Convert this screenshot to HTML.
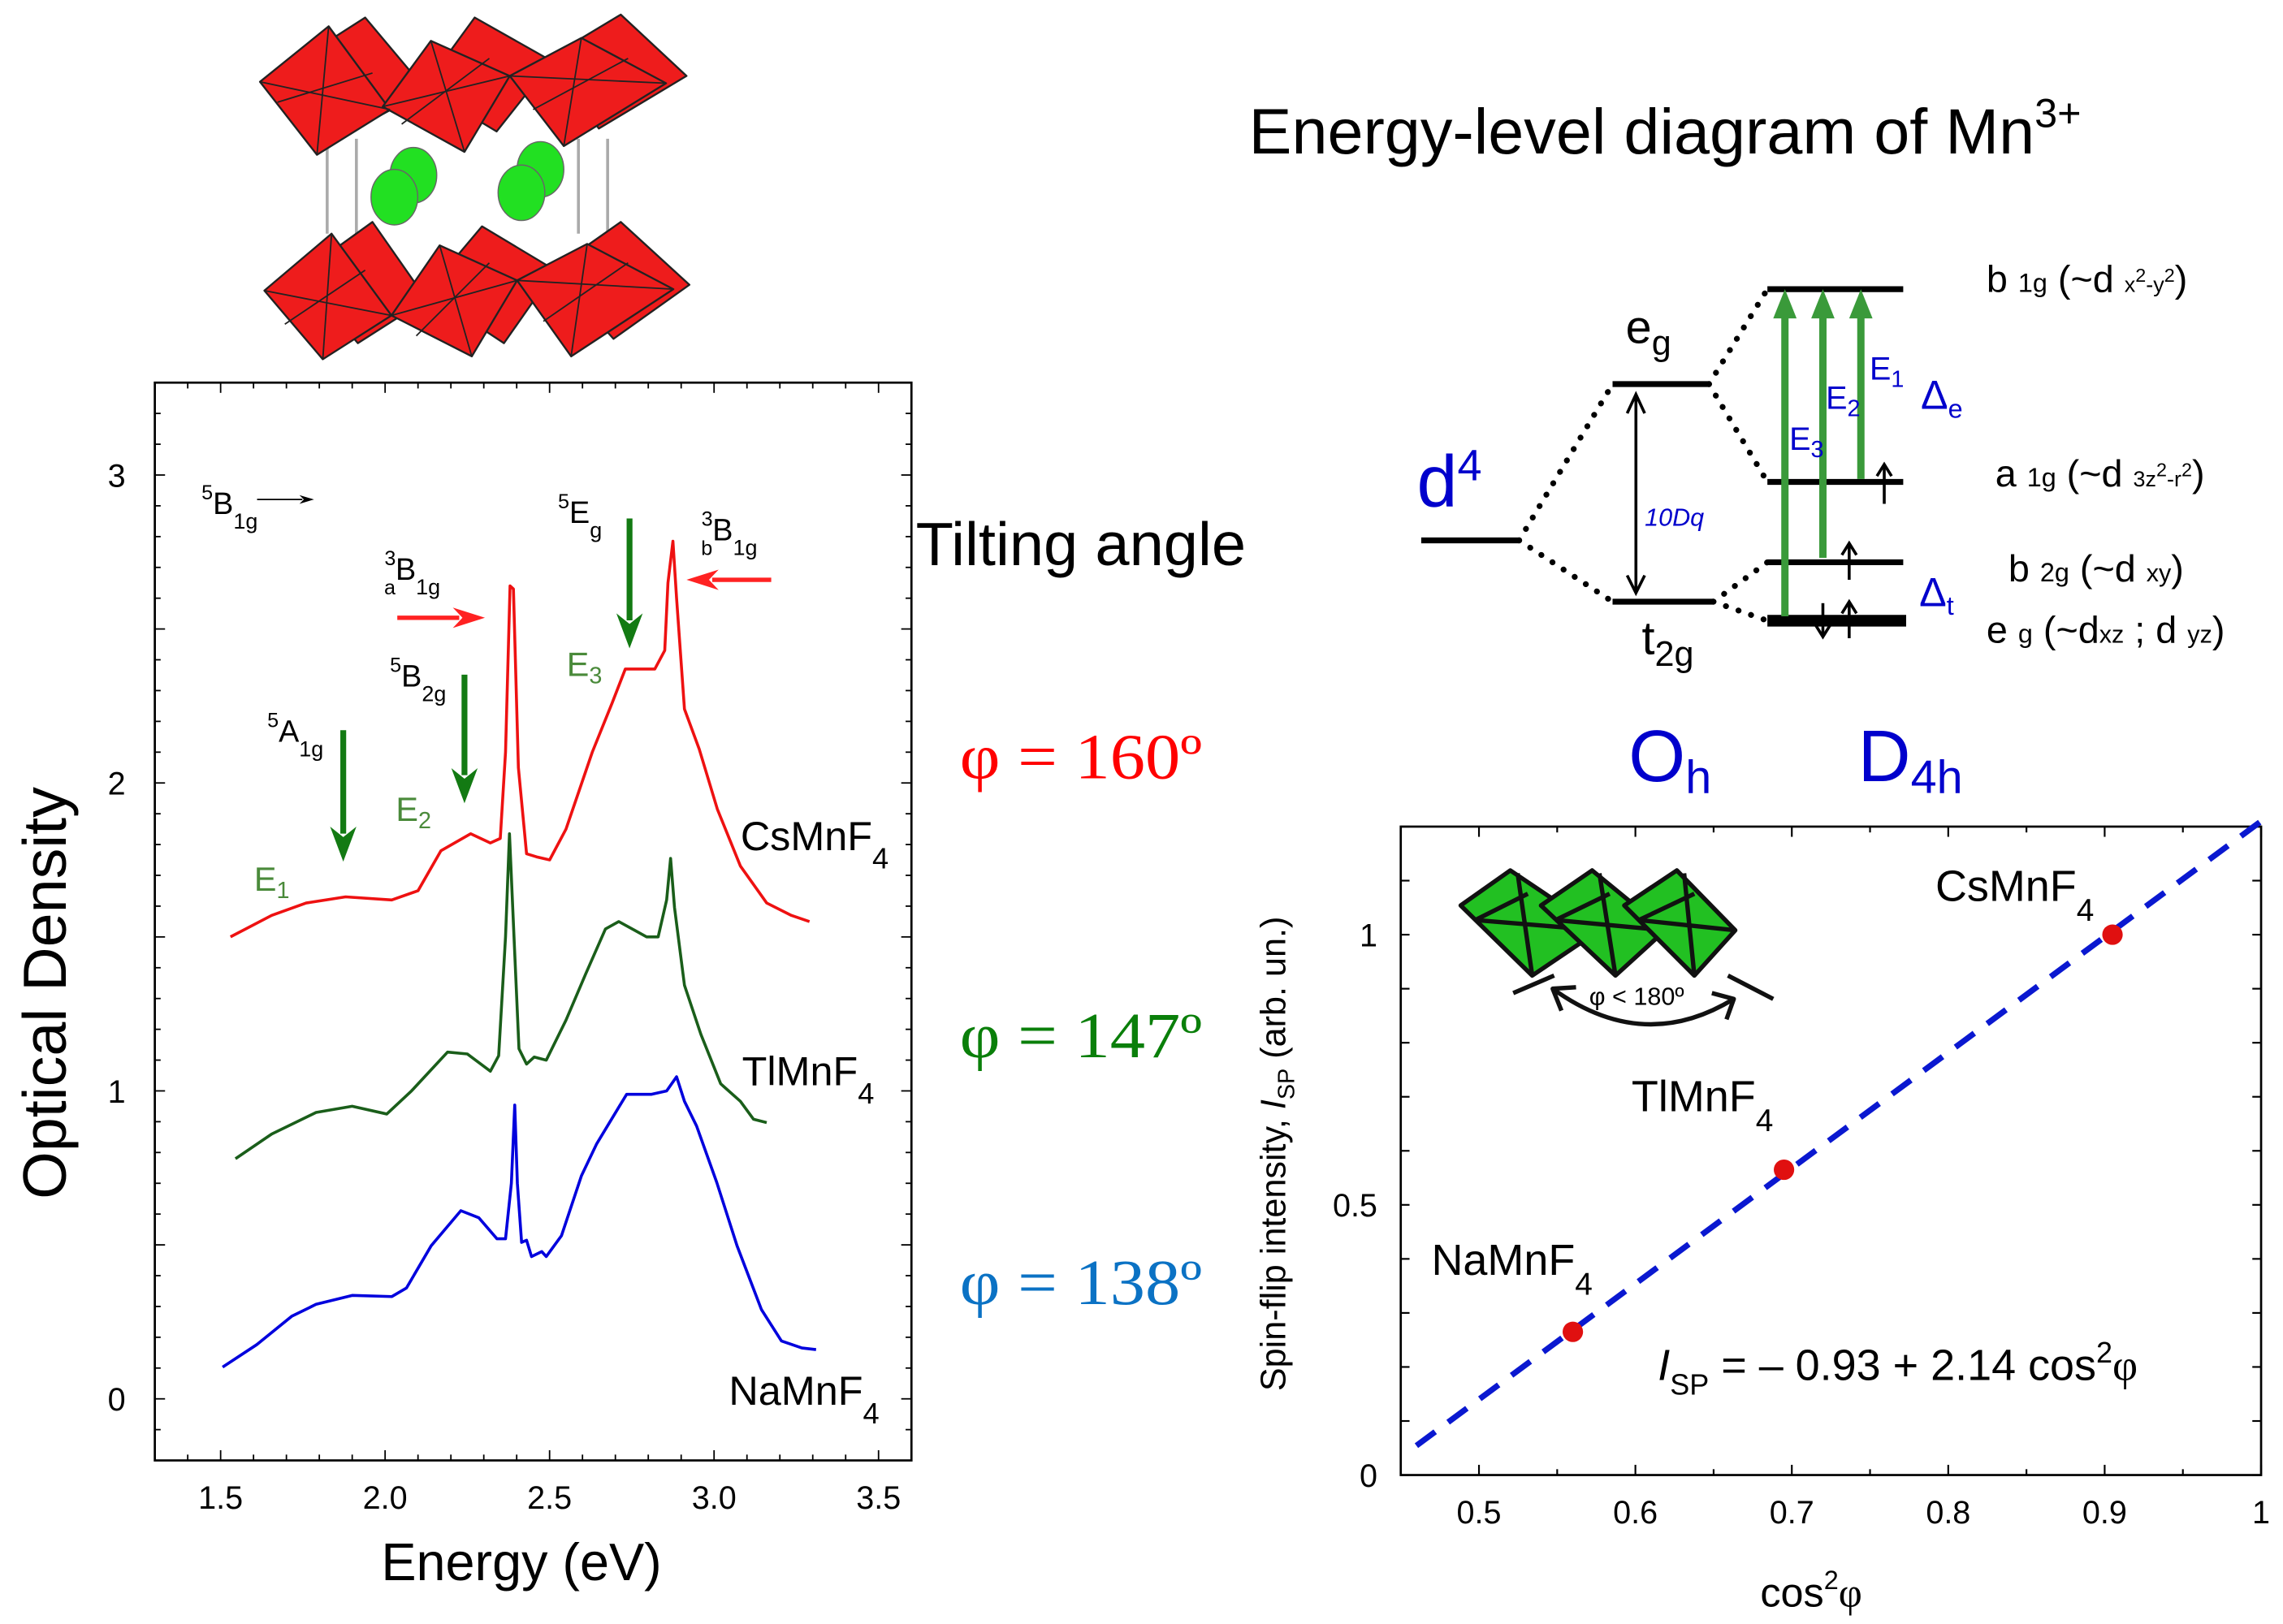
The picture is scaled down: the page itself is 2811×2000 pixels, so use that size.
<!DOCTYPE html>
<html><head><meta charset="utf-8">
<style>
html,body{margin:0;padding:0;background:#fff;}
svg{display:block;}
text{font-family:"Liberation Sans",sans-serif;}
.serif{font-family:"Liberation Serif",serif;}
</style></head>
<body>
<svg id="fig" xmlns="http://www.w3.org/2000/svg" width="2811" height="2000" viewBox="0 0 1563 1112" preserveAspectRatio="none">
<rect x="0" y="0" width="1563" height="1112" fill="#fff"/>

<!-- crystal structure -->
<g id="crystal" stroke="#222" stroke-width="1.3" stroke-linejoin="round">
  <g stroke="#aaa" stroke-width="2">
    <line x1="224" y1="95" x2="224" y2="160"/>
    <line x1="244" y1="95" x2="244" y2="160"/>
    <line x1="396" y1="95" x2="396" y2="160"/>
    <line x1="416" y1="95" x2="416" y2="160"/>
  </g>
  <g fill="#ee1c1c">
    <!-- back top -->
    <polygon points="200,44 250,12 292,62 240,90"/>
    <polygon points="290,60 325,12 378,42 340,90"/>
    <polygon points="375,40 425,10 470,52 410,88"/>
    <!-- front top -->
    <polygon points="178,56 225,18 267,75 217,106"/>
    <polygon points="262,73 295,28 349,52 318,104"/>
    <polygon points="349,52 398,26 456,57 386,100"/>
    <!-- back bottom -->
    <polygon points="205,188 255,152 292,205 245,235"/>
    <polygon points="292,200 330,155 380,185 345,235"/>
    <polygon points="378,185 425,152 472,195 420,232"/>
    <!-- front bottom -->
    <polygon points="181,199 227,160 268,216 221,246"/>
    <polygon points="268,216 301,168 354,192 323,244"/>
    <polygon points="354,192 402,167 461,198 391,244"/>
  </g>
  <g fill="none" stroke-width="1">
    <line x1="225" y1="18" x2="217" y2="106"/><line x1="178" y1="56" x2="267" y2="75"/><line x1="190" y1="70" x2="255" y2="50"/>
    <line x1="295" y1="28" x2="318" y2="104"/><line x1="262" y1="73" x2="349" y2="52"/><line x1="275" y1="85" x2="335" y2="40"/>
    <line x1="398" y1="26" x2="386" y2="100"/><line x1="349" y1="52" x2="456" y2="57"/><line x1="365" y1="75" x2="430" y2="40"/>
    <line x1="227" y1="160" x2="221" y2="246"/><line x1="181" y1="199" x2="268" y2="216"/><line x1="195" y1="222" x2="250" y2="185"/>
    <line x1="301" y1="168" x2="323" y2="244"/><line x1="268" y1="216" x2="354" y2="192"/><line x1="285" y1="230" x2="335" y2="180"/>
    <line x1="402" y1="167" x2="391" y2="244"/><line x1="354" y1="192" x2="461" y2="198"/><line x1="372" y1="220" x2="430" y2="180"/>
  </g>
  <g fill="#22e022" stroke="#666" stroke-width="0.8">
    <ellipse cx="283" cy="120" rx="16" ry="19"/>
    <ellipse cx="270" cy="135" rx="16" ry="19"/>
    <ellipse cx="370" cy="116" rx="16" ry="19"/>
    <ellipse cx="357" cy="132" rx="16" ry="19"/>
  </g>
</g>

<g id="leftChart"></g>
<g id="rightChart"></g>

<!-- tilting angle labels -->
<text x="627" y="387" font-size="42" textLength="226" lengthAdjust="spacingAndGlyphs">Tilting angle</text>
<text class="serif" x="657" y="533" font-size="44" fill="#ff0000" textLength="166" lengthAdjust="spacingAndGlyphs">φ = 160º</text>
<text class="serif" x="657" y="724" font-size="44" fill="#0a7f0a" textLength="166" lengthAdjust="spacingAndGlyphs">φ = 147º</text>
<text class="serif" x="657" y="893" font-size="44" fill="#0b72c4" textLength="166" lengthAdjust="spacingAndGlyphs">φ = 138º</text>

<!-- energy level diagram -->
<g id="energyDiagram">
  <text x="855" y="105" font-size="44">Energy-level diagram of Mn<tspan dy="-18" font-size="28">3+</tspan></text>
  <g stroke="#000" stroke-width="4">
    <line x1="973" y1="370" x2="1040" y2="370"/>
    <line x1="1104" y1="263" x2="1170" y2="263"/>
    <line x1="1104" y1="412" x2="1173" y2="412"/>
    <line x1="1210" y1="198" x2="1303" y2="198"/>
    <line x1="1210" y1="330" x2="1303" y2="330"/>
    <line x1="1210" y1="385" x2="1303" y2="385"/>
    <line x1="1210" y1="425" x2="1305" y2="425" stroke-width="8"/>
  </g>
  <g stroke="#000" stroke-width="4" stroke-dasharray="0.1 9" stroke-linecap="round" fill="none">
    <line x1="1040" y1="370" x2="1104" y2="263"/>
    <line x1="1040" y1="370" x2="1104" y2="412"/>
    <line x1="1170" y1="263" x2="1210" y2="198"/>
    <line x1="1170" y1="263" x2="1210" y2="330"/>
    <line x1="1173" y1="412" x2="1210" y2="385"/>
    <line x1="1173" y1="412" x2="1210" y2="425"/>
  </g>
  <g stroke="#000" stroke-width="2" fill="none">
    <line x1="1120" y1="270" x2="1120" y2="406"/>
    <polyline points="1114,283 1120,270 1126,283"/>
    <polyline points="1114,394 1120,406 1126,394"/>
  </g>
  <g stroke="#000" stroke-width="2" fill="none">
    <line x1="1290" y1="345" x2="1290" y2="318"/><polyline points="1285,326 1290,318 1295,326"/>
    <line x1="1266" y1="397" x2="1266" y2="372"/><polyline points="1261,380 1266,372 1271,380"/>
    <line x1="1266" y1="437" x2="1266" y2="412"/><polyline points="1261,420 1266,412 1271,420"/>
    <line x1="1248" y1="413" x2="1248" y2="436"/><polyline points="1243,428 1248,436 1253,428"/>
  </g>
  <g stroke="#3a9a3a" stroke-width="5" fill="#3a9a3a">
    <line x1="1222" y1="422" x2="1222" y2="214"/><polygon points="1214,218 1222,198 1230,218" stroke="none"/>
    <line x1="1248" y1="382" x2="1248" y2="214"/><polygon points="1240,218 1248,198 1256,218" stroke="none"/>
    <line x1="1274" y1="328" x2="1274" y2="214"/><polygon points="1266,218 1274,198 1282,218" stroke="none"/>
  </g>
  <g fill="#0000cc">
    <text x="970" y="347" font-size="50" font-family="Liberation Serif">d<tspan dy="-18" font-size="30">4</tspan></text>
    <text x="1126" y="360" font-size="17" font-style="italic" font-family="Liberation Serif">10Dq</text>
    <text x="1280" y="260" font-size="22" font-family="Liberation Serif">E<tspan dy="5" font-size="16">1</tspan></text>
    <text x="1250" y="280" font-size="22" font-family="Liberation Serif">E<tspan dy="5" font-size="16">2</tspan></text>
    <text x="1225" y="308" font-size="22" font-family="Liberation Serif">E<tspan dy="5" font-size="16">3</tspan></text>
    <text x="1315" y="280" font-size="28" font-family="Liberation Serif">Δ<tspan dy="6" font-size="18">e</tspan></text>
    <text x="1314" y="415" font-size="28" font-family="Liberation Serif">Δ<tspan dy="6" font-size="18">t</tspan></text>
    <text x="1115" y="535" font-size="50" font-family="Liberation Serif">O<tspan dy="8" font-size="32">h</tspan></text>
    <text x="1272" y="535" font-size="50" font-family="Liberation Serif">D<tspan dy="8" font-size="32">4h</tspan></text>
  </g>
  <g fill="#000">
    <text x="1113" y="235" font-size="32" font-family="Liberation Serif">e<tspan dy="8" font-size="24">g</tspan></text>
    <text x="1124" y="448" font-size="32" font-family="Liberation Serif">t<tspan dy="8" font-size="24">2g</tspan></text>
    <text x="1360" y="200" font-size="26" font-family="Liberation Serif">b <tspan font-size="18">1g</tspan> (~d <tspan font-size="15">x</tspan><tspan font-size="13" dy="-7">2</tspan><tspan font-size="15" dy="7">-y</tspan><tspan font-size="13" dy="-7">2</tspan><tspan dy="7">)</tspan></text>
    <text x="1366" y="333" font-size="26" font-family="Liberation Serif">a <tspan font-size="18">1g</tspan> (~d <tspan font-size="15">3z</tspan><tspan font-size="13" dy="-7">2</tspan><tspan font-size="15" dy="7">-r</tspan><tspan font-size="13" dy="-7">2</tspan><tspan dy="7">)</tspan></text>
    <text x="1375" y="398" font-size="26" font-family="Liberation Serif">b <tspan font-size="18">2g</tspan> (~d <tspan font-size="17">xy</tspan>)</text>
    <text x="1360" y="440" font-size="26" font-family="Liberation Serif">e <tspan font-size="18">g</tspan> (~d<tspan font-size="17">xz</tspan> ; d <tspan font-size="17">yz</tspan>)</text>
  </g>
</g>

<script>
// ---------- Left chart data (optical density vs energy) ----------
const energyTicks = [1.5, 2.0, 2.5, 3.0, 3.5];
const energyTickLabels = ["1.5", "2.0", "2.5", "3.0", "3.5"];
const odTicks = [0, 1, 2, 3];
const odTickLabels = ["0", "1", "2", "3"];
const csEnergy = [1.53,1.655,1.76,1.88,2.02,2.10,2.17,2.26,2.32,2.35,2.366,2.38,2.39,2.405,2.43,2.46,2.50,2.55,2.63,2.69,2.73,2.82,2.85,2.86,2.875,2.886,2.91,2.955,3.01,3.08,3.16,3.235,3.29];
const csOD = [1.50,1.57,1.61,1.63,1.62,1.65,1.78,1.835,1.805,1.82,2.10,2.64,2.63,2.05,1.77,1.76,1.75,1.85,2.10,2.26,2.37,2.37,2.43,2.65,2.785,2.60,2.24,2.11,1.915,1.73,1.61,1.57,1.55];
const tlEnergy = [1.545,1.655,1.79,1.90,2.005,2.08,2.19,2.25,2.32,2.345,2.366,2.378,2.392,2.407,2.43,2.453,2.49,2.55,2.61,2.67,2.71,2.795,2.83,2.856,2.868,2.88,2.91,2.96,3.02,3.08,3.12,3.16];
const tlOD = [0.78,0.86,0.93,0.95,0.925,1.00,1.126,1.12,1.064,1.114,1.50,1.835,1.50,1.137,1.087,1.11,1.10,1.23,1.38,1.526,1.55,1.50,1.50,1.62,1.755,1.595,1.343,1.183,1.023,0.966,0.908,0.897];
const naEnergy = [1.506,1.61,1.716,1.79,1.90,2.02,2.065,2.14,2.23,2.285,2.34,2.366,2.384,2.394,2.402,2.415,2.43,2.445,2.476,2.49,2.536,2.597,2.643,2.734,2.81,2.856,2.886,2.91,2.947,3.008,3.07,3.144,3.205,3.267,3.31];
const naOD = [0.103,0.176,0.268,0.307,0.336,0.332,0.36,0.497,0.611,0.588,0.52,0.52,0.70,0.954,0.70,0.508,0.515,0.462,0.478,0.462,0.53,0.725,0.828,0.989,0.989,1.0,1.046,0.966,0.886,0.703,0.497,0.29,0.188,0.165,0.16];

// ---------- Right chart data (spin-flip intensity vs cos^2 phi) ----------
const cosTicks = [0.5, 0.6, 0.7, 0.8, 0.9, 1.0];
const cosTickLabels = ["0.5", "0.6", "0.7", "0.8", "0.9", "1"];
const ispTicks = [0, 0.5, 1];
const ispTickLabels = ["0", "0.5", "1"];
const sampleNames = ["NaMnF4", "TlMnF4", "CsMnF4"];
const cos2Values = [0.56, 0.695, 0.905];
const ispValues = [0.265, 0.565, 1.0];
const fitCoeffs = [-0.93, 2.14];
const fitRange = [0.46, 1.0];

const NS = "http://www.w3.org/2000/svg";
function mk(parent, tag, attrs, txt) {
  const e = document.createElementNS(NS, tag);
  for (const k in attrs) e.setAttribute(k, attrs[k]);
  if (txt !== undefined) e.textContent = txt;
  parent.appendChild(e);
  return e;
}

// ---- left chart ----
const L = { x0: 106, x1: 624, y0: 262, y1: 1000, xmin: 1.30, xmax: 3.60, ymin: -0.20, ymax: 3.30 };
function lx(v) { return L.x0 + (v - L.xmin) / (L.xmax - L.xmin) * (L.x1 - L.x0); }
function ly(v) { return L.y1 - (v - L.ymin) / (L.ymax - L.ymin) * (L.y1 - L.y0); }
const lg = document.getElementById("leftChart");

const lframe = mk(lg, "rect", { x: L.x0, y: L.y0, width: L.x1 - L.x0, height: L.y1 - L.y0, fill: "none", stroke: "#000", "stroke-width": 1.5 });



for (let i = 0; i <= 23; i++) {
  const v = L.xmin + i * 0.1;
  if (v > L.xmax + 1e-6) break;
  const major = Math.abs(v * 2 - Math.round(v * 2)) < 1e-6;
  const len = major ? 7 : 4;
  const t1 = mk(lg, "line", { x1: lx(v), y1: L.y1, x2: lx(v), y2: L.y1 - len, stroke: "#000", "stroke-width": 1 });
  
  
  const t2 = mk(lg, "line", { x1: lx(v), y1: L.y0, x2: lx(v), y2: L.y0 + len, stroke: "#000", "stroke-width": 1 });
  
  
}
for (let i = 0; i <= 35; i++) {
  const v = L.ymin + i * 0.1;
  if (v > L.ymax + 1e-6) break;
  const major = Math.abs(v * 2 - Math.round(v * 2)) < 1e-6;
  const len = major ? 7 : 4;
  const t1 = mk(lg, "line", { x1: L.x0, y1: ly(v), x2: L.x0 + len, y2: ly(v), stroke: "#000", "stroke-width": 1 });
  
  
  const t2 = mk(lg, "line", { x1: L.x1, y1: ly(v), x2: L.x1 - len, y2: ly(v), stroke: "#000", "stroke-width": 1 });
  
  
}
energyTicks.forEach((v, i) => {
  const t = mk(lg, "text", { x: lx(v), y: L.y1 + 33, "font-size": 22, "text-anchor": "middle" }, energyTickLabels[i]);
  
  
});
odTicks.forEach((v, i) => {
  const t = mk(lg, "text", { x: L.x0 - 20, y: ly(v) + 8, "font-size": 22, "text-anchor": "end" }, odTickLabels[i]);
  
  
});
const lxt = mk(lg, "text", { x: 357, y: 1082, "font-size": 36, "text-anchor": "middle" }, "Energy (eV)");


const lyt = mk(lg, "text", { x: 0, y: 0, "font-size": 42, "text-anchor": "middle", transform: "translate(45,680) rotate(-90)" }, "Optical Density");



function drawSeries(xs, ys, color, name) {
  const d = xs.map((v, i) => (i ? "L" : "M") + lx(v).toFixed(1) + "," + ly(ys[i]).toFixed(1)).join(" ");
  const p = mk(lg, "path", { d: d, fill: "none", stroke: color, "stroke-width": 2, "stroke-linejoin": "round" });
  
  
}
drawSeries(csEnergy, csOD, "#ee1111", "csmnf4-curve");
drawSeries(tlEnergy, tlOD, "#1a5e1a", "tlmnf4-curve");
drawSeries(naEnergy, naOD, "#0000dd", "namnf4-curve");

function subLabel(parent, x, y, main, sub, size, name) {
  const t = mk(parent, "text", { x: x, y: y, "font-size": size });
  
  
  mk(t, "tspan", {}, main);
  mk(t, "tspan", { dy: size * 0.45, "font-size": size * 0.72 }, sub);
  return t;
}
subLabel(lg, 507, 582, "CsMnF", "4", 28, "csmnf4-label");
subLabel(lg, 508, 743, "TlMnF", "4", 28, "tlmnf4-label");
subLabel(lg, 499, 962, "NaMnF", "4", 28, "namnf4-label");

function arrow(parent, x1, y1, x2, y2, color, w, hw, hl, name) {
  const g = mk(parent, "g", {});
  
  
  const dx = x2 - x1, dy = y2 - y1, L2 = Math.hypot(dx, dy), ux = dx / L2, uy = dy / L2;
  mk(g, "line", { x1: x1, y1: y1, x2: x2 - ux * hl * 0.8, y2: y2 - uy * hl * 0.8, stroke: color, "stroke-width": w });
  const bx = x2 - ux * hl, by = y2 - uy * hl;
  mk(g, "polygon", { points: `${x2},${y2} ${bx - uy * hw},${by + ux * hw} ${x2 - ux * hl * 0.7},${y2 - uy * hl * 0.7} ${bx + uy * hw},${by - ux * hw}`, fill: color });
}
arrow(lg, 235, 500, 235, 590, "#137a13", 4, 9, 24, "arrow-5a1g");
arrow(lg, 318, 462, 318, 550, "#137a13", 4, 9, 24, "arrow-5b2g");
arrow(lg, 431, 355, 431, 444, "#137a13", 4, 9, 24, "arrow-5eg");
arrow(lg, 272, 423, 332, 423, "#ff2222", 3, 7, 22, "arrow-3ab1g");
arrow(lg, 528, 397, 470, 397, "#ff2222", 3, 7, 22, "arrow-3bb1g");
arrow(lg, 176, 342, 215, 342, "#000", 1, 3, 10, "arrow-5b1g");

function stateLabel(x, y, pre, main, preSub, sub, name) {
  const t = mk(lg, "text", { x: x, y: y, "font-size": 21 });
  
  
  mk(t, "tspan", { dy: -10, "font-size": 14 }, pre);
  if (preSub) { mk(t, "tspan", { dy: 20, "font-size": 14, dx: -8 }, preSub); mk(t, "tspan", { dy: -10 }, main); }
  else mk(t, "tspan", { dy: 10 }, main);
  mk(t, "tspan", { dy: 10, "font-size": 15 }, sub);
}
stateLabel(138, 352, "5", "B", null, "1g", "label-5b1g");
stateLabel(263, 397, "3", "B", "a", "1g", "label-3ab1g");
stateLabel(267, 470, "5", "B", null, "2g", "label-5b2g");
stateLabel(382, 358, "5", "E", null, "g", "label-5eg");
stateLabel(480, 370, "3", "B", "b", "1g", "label-3bb1g");
stateLabel(183, 508, "5", "A", null, "1g", "label-5a1g");

function eLabel(x, y, n, name) {
  const t = mk(lg, "text", { x: x, y: y, "font-size": 23, fill: "#4a8a3a", "font-family": "Liberation Serif" });
  
  
  mk(t, "tspan", {}, "E");
  mk(t, "tspan", { dy: 5, "font-size": 16 }, n);
}
eLabel(174, 610, "1", "label-e1");
eLabel(271, 562, "2", "label-e2");
eLabel(388, 463, "3", "label-e3");

// ---- right chart ----
const R = { x0: 959, x1: 1548, y0: 566, y1: 1010, xmin: 0.45, xmax: 1.0, ymin: 0, ymax: 1.2 };
function rx(v) { return R.x0 + (v - R.xmin) / (R.xmax - R.xmin) * (R.x1 - R.x0); }
function ry(v) { return R.y1 - (v - R.ymin) / (R.ymax - R.ymin) * (R.y1 - R.y0); }
const rg = document.getElementById("rightChart");
const rframe = mk(rg, "rect", { x: R.x0, y: R.y0, width: R.x1 - R.x0, height: R.y1 - R.y0, fill: "none", stroke: "#000", "stroke-width": 1.5 });


for (let i = 0; i <= 12; i++) {
  const vv = Math.round((0.45 + i * 0.05) * 100) / 100;
  if (vv < 0.46 || vv > R.xmax + 1e-6) continue;
  const len = Math.abs(vv * 10 - Math.round(vv * 10)) < 1e-6 ? 7 : 4;
  const t1 = mk(rg, "line", { x1: rx(vv), y1: R.y1, x2: rx(vv), y2: R.y1 - len, stroke: "#000", "stroke-width": 1.2 });
  
  
  const t2 = mk(rg, "line", { x1: rx(vv), y1: R.y0, x2: rx(vv), y2: R.y0 + len, stroke: "#000", "stroke-width": 1.2 });
  
  
}
for (let i = 0; i <= 12; i++) {
  const v = i * 0.1;
  const t1 = mk(rg, "line", { x1: R.x0, y1: ry(v), x2: R.x0 + 6, y2: ry(v), stroke: "#000", "stroke-width": 1.2 });
  
  
  const t2 = mk(rg, "line", { x1: R.x1, y1: ry(v), x2: R.x1 - 6, y2: ry(v), stroke: "#000", "stroke-width": 1.2 });
  
  
}
cosTicks.forEach((v, i) => {
  const t = mk(rg, "text", { x: rx(v), y: R.y1 + 33, "font-size": 22, "text-anchor": "middle" }, cosTickLabels[i]);
  
  
});
ispTicks.forEach((v, i) => {
  const t = mk(rg, "text", { x: R.x0 - 16, y: ry(v) + 8, "font-size": 22, "text-anchor": "end" }, ispTickLabels[i]);
  
  
});
const rxt = mk(rg, "text", { x: 1240, y: 1100, "font-size": 28, "text-anchor": "middle" });


mk(rxt, "tspan", {}, "cos");
mk(rxt, "tspan", { dy: -12, "font-size": 18 }, "2");
mk(rxt, "tspan", { dy: 12, "font-family": "Liberation Serif" }, "φ");
const ryt = mk(rg, "text", { x: 0, y: 0, "font-size": 24, "text-anchor": "middle", transform: "translate(880,790) rotate(-90)" });


mk(ryt, "tspan", {}, "Spin-flip intensity, ");
mk(ryt, "tspan", { "font-style": "italic" }, "I");
mk(ryt, "tspan", { dy: 6, "font-size": 16 }, "SP");
mk(ryt, "tspan", { dy: -6 }, " (arb. un.)");

const fit = mk(rg, "line", { x1: rx(fitRange[0]), y1: ry(fitCoeffs[0] + fitCoeffs[1] * fitRange[0]), x2: rx(fitRange[1]), y2: ry(fitCoeffs[0] + fitCoeffs[1] * fitRange[1]), stroke: "#0a18d0", "stroke-width": 4, "stroke-dasharray": "16 11" });


cos2Values.forEach((v, i) => {
  const c = mk(rg, "circle", { cx: rx(v), cy: ry(ispValues[i]), r: 7, fill: "#e01010" });
  
  
});
subLabel(rg, 1325, 617, "CsMnF", "4", 30, "csmnf4-point-label");
subLabel(rg, 1117, 761, "TlMnF", "4", 30, "tlmnf4-point-label");
subLabel(rg, 980, 873, "NaMnF", "4", 30, "namnf4-point-label");
const eq = mk(rg, "text", { x: 1135, y: 945, "font-size": 30 });


mk(eq, "tspan", { "font-style": "italic" }, "I");
mk(eq, "tspan", { dy: 10, "font-size": 20 }, "SP");
mk(eq, "tspan", { dy: -10 }, " = – 0.93 + 2.14 cos");
mk(eq, "tspan", { dy: -12, "font-size": 20 }, "2");
mk(eq, "tspan", { dy: 12, "font-family": "Liberation Serif" }, "φ");

// inset green octahedra
const ins = mk(rg, "g", { stroke: "#111", "stroke-width": 3, "stroke-linejoin": "round" });


[[1000, 1034, 1049, 1095], [1055, 1090, 1106, 1140], [1112, 1148, 1160, 1188]].forEach(o => {
  mk(ins, "polygon", { points: `${o[0]},620 ${o[1]},596 ${o[3]},637 ${o[2]},668`, fill: "#22c022" });
  mk(ins, "line", { x1: o[0] + 10, y1: 630, x2: o[3], y2: 637 });
  mk(ins, "line", { x1: o[1] + 5, y1: 598, x2: o[2], y2: 668 });
  mk(ins, "line", { x1: o[0] + 10, y1: 630, x2: o[1] + 12, y2: 612 });
});
mk(ins, "line", { x1: 1036, y1: 680, x2: 1064, y2: 668 });
mk(ins, "line", { x1: 1183, y1: 668, x2: 1214, y2: 684 });
mk(ins, "path", { d: "M1063,677 Q1125,722 1187,684", fill: "none" });
mk(ins, "polyline", { points: "1069,692 1063,677 1079,676", fill: "none" });
mk(ins, "polyline", { points: "1172,680 1187,684 1182,698", fill: "none" });
const phl = mk(rg, "text", { x: 1088, y: 688, "font-size": 17 }, "φ < 180º");


</script>
</svg>
</body></html>
